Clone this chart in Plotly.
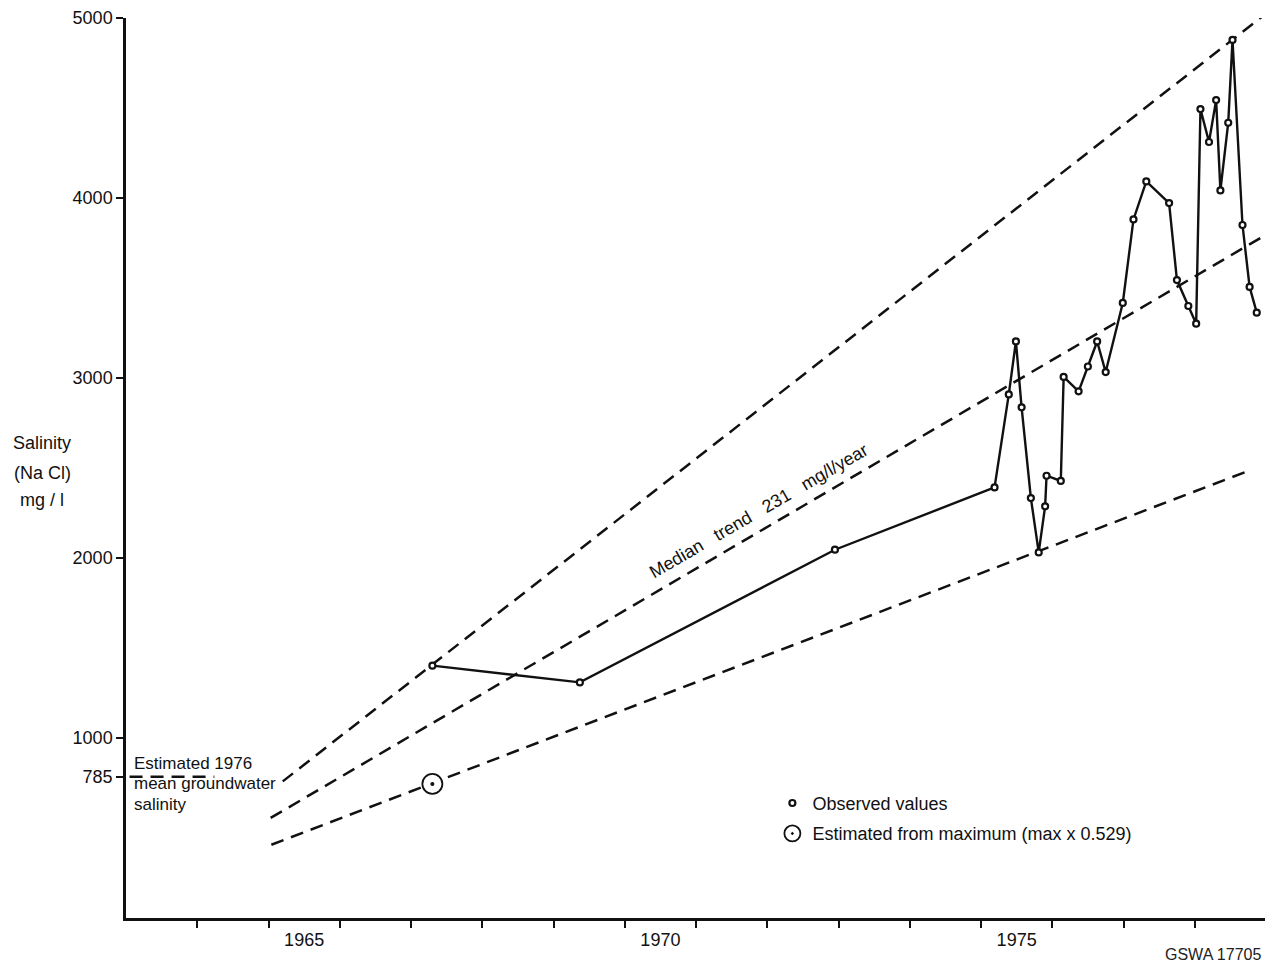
import plotly.graph_objects as go

# ---- data ----
obs_year = [1967.30, 1969.37, 1972.95, 1975.19, 1975.39, 1975.49, 1975.57, 1975.70,
            1975.81, 1975.90, 1975.92, 1976.12, 1976.16, 1976.37, 1976.50, 1976.63,
            1976.75, 1976.99, 1977.14, 1977.32, 1977.64, 1977.75, 1977.91, 1978.02,
            1978.08, 1978.20, 1978.30, 1978.36, 1978.47, 1978.53, 1978.67, 1978.77,
            1978.87]
obs_salinity = [1402, 1309, 2046, 2392, 2909, 3203, 2837, 2333,
                2031, 2287, 2457, 2428, 3006, 2926, 3064, 3203,
                3033, 3417, 3881, 4092, 3972, 3544, 3400, 3302,
                4494, 4311, 4544, 4042, 4418, 4878, 3850, 3506,
                3363]

est_year = [1967.30]
est_salinity = [745]

upper_year = [1965.20, 1979.00]
upper_salinity = [759, 5025]
median_year = [1965.03, 1979.00]
median_salinity = [556, 3796]
lower_year = [1965.04, 1978.80]
lower_salinity = [407, 2491]

mean1976_year = [1963.05, 1964.24]
mean1976_salinity = [785, 785]

y_tick_vals = [785, 1000, 2000, 3000, 4000, 5000]
x_label_years = [1965, 1970, 1975]
x_tick_years = list(range(1964, 1980))

FONT = "Liberation Sans, Arial, sans-serif"
BLACK = "#111111"

fig = go.Figure()

dash_style = dict(color=BLACK, width=2.5, dash="13px,8px")
for xs, ys in [(upper_year, upper_salinity), (median_year, median_salinity),
               (lower_year, lower_salinity), (mean1976_year, mean1976_salinity)]:
    fig.add_trace(go.Scatter(x=xs, y=ys, mode="lines", line=dash_style,
                             showlegend=False, hoverinfo="skip"))

fig.add_trace(go.Scatter(x=obs_year, y=obs_salinity, mode="lines",
                         line=dict(color=BLACK, width=2.4), showlegend=False))
fig.add_trace(go.Scatter(x=obs_year, y=obs_salinity, mode="markers",
                         name="Observed values", legendgroup="a",
                         marker=dict(symbol="circle", size=6, color="white",
                                     line=dict(color=BLACK, width=2.2))))
fig.add_trace(go.Scatter(x=est_year, y=est_salinity, mode="markers",
                         name="Estimated from maximum (max x 0.529)", legendgroup="b",
                         marker=dict(symbol="circle-dot", size=20, color="white",
                                     line=dict(color=BLACK, width=1.8))))
fig.add_trace(go.Scatter(x=est_year, y=est_salinity, mode="markers",
                         showlegend=False, hoverinfo="skip",
                         marker=dict(symbol="circle", size=4, color=BLACK)))

annotations = []
# y-axis title lines
for txt, yv in [("Salinity", 2640), ("(Na Cl)", 2470), ("mg / l", 2320)]:
    annotations.append(dict(x=-0.0735, xref="paper", y=yv, yref="y", text=txt,
                            showarrow=False, xanchor="center", yanchor="middle",
                            font=dict(family=FONT, size=18, color=BLACK)))
# estimated 1976 note
for txt, yv in [("Estimated 1976", 857), ("mean groundwater", 745), ("salinity", 633)]:
    annotations.append(dict(x=1963.09, y=yv, text=txt, showarrow=False,
                            xanchor="left", yanchor="middle",
                            font=dict(family=FONT, size=17, color=BLACK)))
# median trend label
sp = "\u00a0\u00a0\u00a0"
annotations.append(dict(x=1971.88, y=2262, text=f"Median{sp}trend{sp}231{sp}mg/l/year",
                        showarrow=False, textangle=-30.1,
                        font=dict(family=FONT, size=18, color=BLACK)))
# figure reference
annotations.append(dict(x=0.997, xref="paper", y=-0.04, yref="paper", text="GSWA 17705",
                        showarrow=False, xanchor="right", yanchor="middle",
                        font=dict(family=FONT, size=16, color="#222222")))

# the page adds an 8px body margin; size the figure so the plot lands in place
fig.update_layout(
    width=1258, height=954,
    margin=dict(l=118, r=0, t=10, b=44),
    paper_bgcolor="white", plot_bgcolor="white",
    font=dict(family=FONT, size=18, color=BLACK),
    showlegend=True,
    legend=dict(x=0.567, y=0.148, xanchor="left", yanchor="top",
                bgcolor="rgba(0,0,0,0)", font=dict(family=FONT, size=18, color=BLACK),
                tracegroupgap=4, itemsizing="trace"),
    annotations=annotations,
)
fig.update_xaxes(range=[1963, 1979], showline=True, linecolor=BLACK, linewidth=2.5,
                 showgrid=False, zeroline=False,
                 tickmode="array", tickvals=[y + 0.5 for y in x_label_years],
                 ticktext=[str(y) for y in x_label_years],
                 ticks="outside", ticklen=0, tickwidth=0, ticklabelstandoff=4,
                 tickfont=dict(family=FONT, size=18, color=BLACK),
                 minor=dict(tickmode="array", tickvals=x_tick_years, ticks="outside",
                            ticklen=7, tickwidth=1.5, tickcolor=BLACK, showgrid=False))
fig.update_yaxes(range=[0, 5000], showline=True, linecolor=BLACK, linewidth=2.5,
                 showgrid=False, zeroline=False,
                 tickmode="array", tickvals=y_tick_vals,
                 ticktext=[str(v) for v in y_tick_vals],
                 ticks="outside", ticklen=7, tickwidth=1.5, tickcolor=BLACK,
                 tickfont=dict(family=FONT, size=18, color=BLACK))

fig.write_html("out.html")
